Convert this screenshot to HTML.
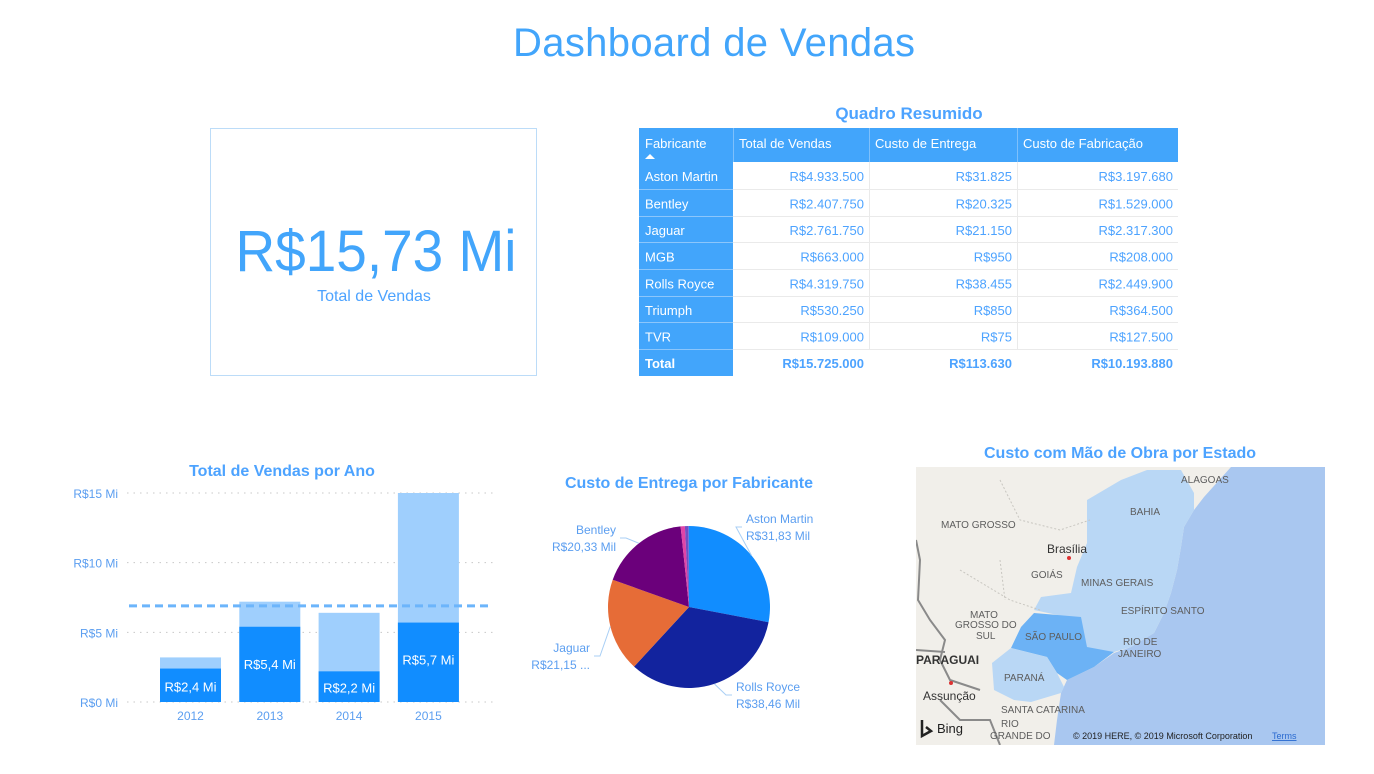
<!DOCTYPE html>
<html><head><meta charset="utf-8"><style>
body{margin:0;background:#fff;width:1374px;height:769px;overflow:hidden;font-family:"Liberation Sans",sans-serif}
svg text{font-family:"Liberation Sans",sans-serif}
</style></head><body>
<svg id="s" width="1374" height="769" xmlns="http://www.w3.org/2000/svg">
<text x="714" y="56" text-anchor="middle" font-size="40" fill="#42a5fb" textLength="402">Dashboard de Vendas</text>

<g>
<rect x="210.5" y="128.5" width="326" height="247" fill="#fff" stroke="#bcdcf8"/>
<text x="376" y="271" text-anchor="middle" font-size="58" fill="#42a5fb" textLength="281" lengthAdjust="spacingAndGlyphs">R$15,73 Mi</text>
<text x="374" y="301" text-anchor="middle" font-size="16" fill="#4da3ff">Total de Vendas</text>
</g>

<text x="909" y="119" text-anchor="middle" font-size="17" font-weight="bold" fill="#4da3ff">Quadro Resumido</text>
<g id="tbl"></g>

<text x="282" y="476" text-anchor="middle" font-size="16" font-weight="bold" fill="#4da3ff">Total de Vendas por Ano</text>
<g id="bars"></g>

<text x="689" y="488" text-anchor="middle" font-size="16" font-weight="bold" fill="#4da3ff">Custo de Entrega por Fabricante</text>
<g id="pie"></g>

<text x="1120" y="458" text-anchor="middle" font-size="16" font-weight="bold" fill="#4da3ff">Custo com Mão de Obra por Estado</text>
<g>
<clipPath id="mc"><rect x="916" y="467" width="409" height="278"/></clipPath>
<g clip-path="url(#mc)">
<rect x="916" y="467" width="409" height="278" fill="#f1efea"/>
<polygon points="1231,467 1325,467 1325,745 1054,745 1057,720 1061,693 1067,680 1094,667 1114,653 1131,647 1154,633 1164,613 1171,593 1177,570 1181,547 1184,527 1194,510 1204,497" fill="#a9c7f0"/>
<polygon points="1087,500 1121,480 1147,470 1181,470 1194,493 1194,510 1184,527 1181,547 1177,570 1171,593 1164,613 1154,633 1131,647 1114,652 1094,660 1081,647 1067,617 1034,610 1041,597 1071,593 1077,567 1087,543" fill="#b9d7f5"/>
<polygon points="1034,613 1081,617 1087,647 1114,652 1094,667 1067,680 1057,673 1047,657 1011,648 1021,627" fill="#6cb2f5"/>
<polygon points="1011,648 1047,657 1057,673 1064,687 1061,693 1031,702 1014,700 994,690 992,663" fill="#b9d7f5"/>
<path d="M916,540 L920,560 L918,600 L930,620 L945,640 L940,660 L950,680 L980,690 M916,650 L945,652 M940,700 L960,720 L990,720 L1000,745" stroke="#8a8a8a" stroke-width="2" fill="none"/>
<path d="M1000,480 L1020,520 L1060,530 L1090,520 M960,570 L1010,600 L1040,610 M1000,560 L1005,600" stroke="#c8c6c0" stroke-width="1" stroke-dasharray="2,2" fill="none"/>
<g font-size="10" fill="#5d5d5d">
<text x="1181" y="483">ALAGOAS</text>
<text x="1130" y="515">BAHIA</text>
<text x="941" y="528">MATO GROSSO</text>
<text x="1047" y="553" font-size="12" fill="#333">Brasília</text>
<circle cx="1069" cy="558" r="2" fill="#d33"/>
<text x="1031" y="578">GOIÁS</text>
<text x="1081" y="586">MINAS GERAIS</text>
<text x="1121" y="614">ESPÍRITO SANTO</text>
<text x="970" y="618">MATO</text>
<text x="955" y="628">GROSSO DO</text>
<text x="976" y="639">SUL</text>
<text x="1025" y="640">SÃO PAULO</text>
<text x="1123" y="645">RIO DE</text>
<text x="1118" y="657">JANEIRO</text>
<text x="916" y="664" font-weight="bold" fill="#333" font-size="12">PARAGUAI</text>
<circle cx="951" cy="683" r="2" fill="#d33"/>
<text x="1004" y="681">PARANÁ</text>
<text x="923" y="700" font-size="12" fill="#333">Assunção</text>
<text x="1001" y="713">SANTA CATARINA</text>
<text x="1001" y="727">RIO</text>
<text x="990" y="739">GRANDE DO</text>
</g>
<text x="937" y="733" font-size="13" fill="#222">Bing</text>
<path d="M922,720 L922,736 L931,731 L926,727" stroke="#222" stroke-width="2.5" fill="none"/>
<text x="1073" y="739" font-size="9" fill="#222">© 2019 HERE, © 2019 Microsoft Corporation</text>
<text x="1272" y="739" font-size="9" fill="#2a6ad0" text-decoration="underline">Terms</text>
</g>
</g>
</svg>
<script>
const NS='http://www.w3.org/2000/svg';
function mk(p,tag,attrs,txt){const e=document.createElementNS(NS,tag);for(const k in attrs)e.setAttribute(k,attrs[k]);if(txt!==undefined)e.textContent=txt;p.appendChild(e);return e;}

// ---- table data ----
const tblHeaders=['Fabricante','Total de Vendas','Custo de Entrega','Custo de Fabricação'];
const makers=['Aston Martin','Bentley','Jaguar','MGB','Rolls Royce','Triumph','TVR'];
const salesTotal=['R$4.933.500','R$2.407.750','R$2.761.750','R$663.000','R$4.319.750','R$530.250','R$109.000'];
const deliveryCost=['R$31.825','R$20.325','R$21.150','R$950','R$38.455','R$850','R$75'];
const makeCost=['R$3.197.680','R$1.529.000','R$2.317.300','R$208.000','R$2.449.900','R$364.500','R$127.500'];
const totalsRow=['Total','R$15.725.000','R$113.630','R$10.193.880'];

// ---- bar chart data ----
const years=['2012','2013','2014','2015'];
const yearTotal=[3.2,7.2,6.4,15.0];
const yearHighlight=[2.4,5.4,2.2,5.7];
const highlightLabels=['R$2,4 Mi','R$5,4 Mi','R$2,2 Mi','R$5,7 Mi'];
const yTicks=[0,5,10,15];
const yTickLabels=['R$0 Mi','R$5 Mi','R$10 Mi','R$15 Mi'];
const averageLine=6.9;

// ---- pie data ----
const pieNames=['Aston Martin','Rolls Royce','Jaguar','Bentley','MGB','Triumph','TVR'];
const pieValues=[31825,38455,21150,20325,950,850,75];
const pieLabels=['R$31,83 Mil','R$38,46 Mil','R$21,15 ...','R$20,33 Mil','','',''];

// table
(function(){
  const g=document.getElementById('tbl');
  const colX=[639,733,869,1017,1178];
  const rowY=[128,162,190,217,243,270,297,323,350,376];
  mk(g,'rect',{x:639,y:128,width:539,height:34,fill:'#42a5fb'});
  for(let c=0;c<4;c++){
    const t=mk(g,'text',{x:colX[c]+6,y:148,'font-size':13,fill:'#fff'},tblHeaders[c]);
    
    
    if(c>0)mk(g,'line',{x1:colX[c]+0.5,y1:128,x2:colX[c]+0.5,y2:162,stroke:'#7ec0fb'});
  }
  mk(g,'path',{d:'M645,159 L650,154 L655,159 Z',fill:'#fff'});
  const rows=makers.map((m,i)=>[m,salesTotal[i],deliveryCost[i],makeCost[i]]).concat([totalsRow]);
  rows.forEach((r,i)=>{
    const y0=rowY[i+1],y1=rowY[i+2],bold=i===rows.length-1;
    mk(g,'rect',{x:639,y:y0,width:94,height:y1-y0,fill:'#42a5fb'});
    if(i<rows.length-1){
      mk(g,'line',{x1:639,y1:y1-0.5,x2:733,y2:y1-0.5,stroke:'#8cc6fb'});
      mk(g,'line',{x1:733,y1:y1-0.5,x2:1178,y2:y1-0.5,stroke:'#eaeaea'});
    }
    const cy=y0+(y1-y0)/2+5;
    const t0=mk(g,'text',{x:645,y:cy,'font-size':13,fill:'#fff','font-weight':bold?'bold':'normal'},r[0]);
    
    
    for(let c=1;c<4;c++){
      const t=mk(g,'text',{x:colX[c+1]-5,y:cy,'font-size':13,fill:'#4da3ff','text-anchor':'end','font-weight':bold?'bold':'normal'},r[c]);
      
      
    }
  });
  for(let c=2;c<4;c++)mk(g,'line',{x1:colX[c]+0.5,y1:162,x2:colX[c]+0.5,y2:350,stroke:'#eaeaea'});
})();

// bars
(function(){
  const g=document.getElementById('bars');
  const y0=702,pxPer=(702-493)/15;
  const ys=v=>y0-v*pxPer;
  const xs=i=>160+i*79.3;
  const bw=61;
  yTicks.forEach((v,i)=>{
    mk(g,'line',{x1:127,y1:ys(v),x2:493,y2:ys(v),stroke:'#c8c8c8','stroke-dasharray':'1.5,5'});
    const t=mk(g,'text',{x:118,y:ys(v)+5,'font-size':12,fill:'#5b9ef0','text-anchor':'end'},yTickLabels[i]);
    
    
  });
  years.forEach((yr,i)=>{
    const r=mk(g,'rect',{x:xs(i),y:ys(yearTotal[i]),width:bw,height:yearTotal[i]*pxPer,fill:'#9fcffd'});
    
    
    const r2=mk(g,'rect',{x:xs(i),y:ys(yearHighlight[i]),width:bw,height:yearHighlight[i]*pxPer,fill:'#118dff'});
    
    
    const ly=yearHighlight[i]>4?ys(yearHighlight[i])+42:ys(yearHighlight[i]/2)+6;
    const l=mk(g,'text',{x:xs(i)+bw/2,y:ly,'font-size':13,fill:'#fff','text-anchor':'middle'},highlightLabels[i]);
    
    
    const xl=mk(g,'text',{x:xs(i)+bw/2,y:720,'font-size':12,fill:'#5b9ef0','text-anchor':'middle'},yr);
    
    
  });
  const al=mk(g,'line',{x1:129,y1:ys(averageLine),x2:490,y2:ys(averageLine),stroke:'#6cb5fb','stroke-width':3,'stroke-dasharray':'8,5'});
  
  
})();

// pie
(function(){
  const g=document.getElementById('pie');
  const cx=689,cy=607,R=81;
  const colors=['#118dff','#12239e','#e66c37','#6b007b','#e044a7','#744ec2','#3399ff'];
  // label anchor layout (leader-line end points), indexed by slice order
  const labelAnchor={0:[742,527],1:[732,695],2:[594,656],3:[620,538]};
  const tot=pieValues.reduce((a,b)=>a+b,0);
  let a=0;
  pieValues.forEach((v,i)=>{
    const a0=a,a1=a+v/tot*2*Math.PI;a=a1;
    const p=(t)=>[cx+R*Math.sin(t),cy-R*Math.cos(t)];
    const [x0,y0]=p(a0),[x1,y1]=p(a1);
    const s=mk(g,'path',{d:`M${cx},${cy} L${x0},${y0} A${R},${R} 0 ${a1-a0>Math.PI?1:0} 1 ${x1},${y1} Z`,fill:colors[i]});
    
    
    if(pieLabels[i]&&labelAnchor[i]){
      const m=(a0+a1)/2;
      const right=Math.sin(m)>0;
      const [lx,ly]=labelAnchor[i];
      const px=cx+R*Math.sin(m),py=cy-R*Math.cos(m);
      const bx=lx+(right?-6:6);
      mk(g,'polyline',{points:`${px},${py} ${bx},${ly} ${lx},${ly}`,fill:'none',stroke:'#a9cff5'});
      const tx=lx+(right?4:-4),anc=right?'start':'end';
      const t1=mk(g,'text',{x:tx,y:ly-4,'font-size':12,fill:'#5b9ef0','text-anchor':anc},pieNames[i]);
      
      
      const t2=mk(g,'text',{x:tx,y:ly+13,'font-size':12,fill:'#5b9ef0','text-anchor':anc},pieLabels[i]);
      
      
    }
  });
})();
</script>
</body></html>
